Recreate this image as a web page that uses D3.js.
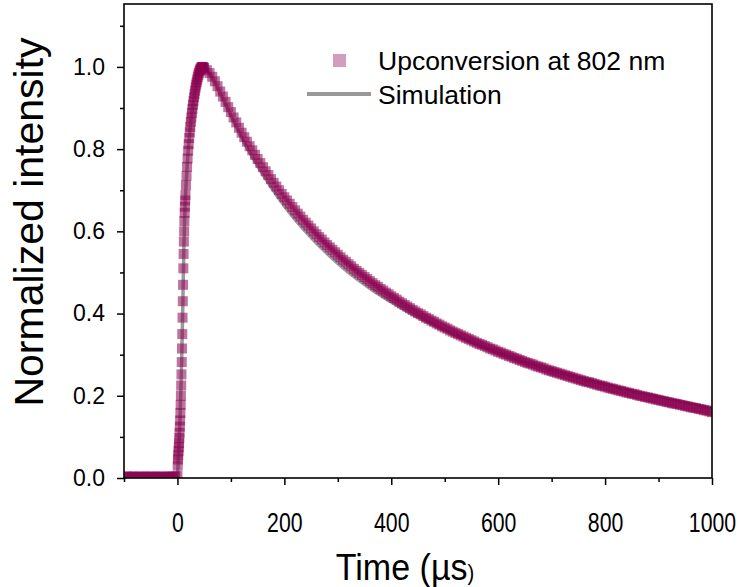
<!DOCTYPE html>
<html lang="en">
<head>
<meta charset="UTF-8">
<title>Upconversion decay</title>
<style>
  html, body { margin: 0; padding: 0; background: #fff; }
  body { font-family: "Liberation Sans", Arial, sans-serif; }
  .axis path { display: none; }
  .axis line { stroke: #000; stroke-width: 1.5; }
  .axis text { fill: #000; font-family: "Liberation Sans", Arial, sans-serif; }
</style>
<script src="https://cdn.jsdelivr.net/npm/d3@7"></script>
</head>
<body>
<svg id="chart"></svg>
<script>
// measured data (normalized intensity vs time in µs)
const baseT = d3.range(-100, 0, 4);
const baseV = [0.003, 0.004, 0.003, 0.002, 0.003, 0.004, 0.003, 0.003, 0.002, 0.003,
               0.004, 0.003, 0.003, 0.002, 0.003, 0.004, 0.003, 0.003, 0.002, 0.003,
               0.004, 0.003, 0.003, 0.003, 0.004];

const riseT = d3.range(0, 15.25, 0.5).concat(d3.range(16, 50, 1));
const riseV = [0.005, 0.030, 0.045, 0.055, 0.065, 0.075, 0.085, 0.097, 0.110, 0.125,
               0.140, 0.158, 0.178, 0.200, 0.225, 0.252, 0.282, 0.315, 0.350, 0.390,
               0.430, 0.470, 0.510, 0.545, 0.575, 0.600, 0.625, 0.645, 0.660, 0.675,
               0.688,
               0.712, 0.735, 0.757, 0.777, 0.796, 0.812, 0.827, 0.841, 0.854, 0.866,
               0.877, 0.888, 0.898, 0.908, 0.917, 0.926, 0.934, 0.942, 0.950, 0.957,
               0.963, 0.969, 0.975, 0.980, 0.985, 0.989, 0.992, 0.995, 0.997, 0.999,
               1.000, 1.000, 0.999, 0.998];

const decayT = d3.range(50, 1001, 5);
const decayV = [
  0.997, 0.992, 0.985, 0.976, 0.965, 0.953, 0.940, 0.928, 0.915, 0.902,
  0.890, 0.877, 0.865, 0.852, 0.840, 0.829, 0.818, 0.807, 0.797, 0.786,
  0.776, 0.766, 0.756, 0.746, 0.737, 0.727, 0.718, 0.709, 0.700, 0.691,
  0.683, 0.675, 0.667, 0.659, 0.651, 0.643, 0.636, 0.628, 0.621, 0.614,
  0.607, 0.600, 0.593, 0.586, 0.580, 0.573, 0.567, 0.561, 0.555, 0.549,
  0.543, 0.537, 0.531, 0.526, 0.520, 0.515, 0.509, 0.504, 0.499, 0.494,
  0.489, 0.484, 0.479, 0.474, 0.469, 0.465, 0.460, 0.456, 0.451, 0.447,
  0.442, 0.438, 0.434, 0.429, 0.425, 0.421, 0.417, 0.413, 0.409, 0.405,
  0.401, 0.398, 0.394, 0.390, 0.387, 0.383, 0.380, 0.376, 0.373, 0.369,
  0.366, 0.363, 0.359, 0.356, 0.353, 0.350, 0.347, 0.344, 0.341, 0.338,
  0.335, 0.332, 0.329, 0.326, 0.324, 0.321, 0.318, 0.315, 0.313, 0.310,
  0.307, 0.305, 0.302, 0.300, 0.297, 0.295, 0.292, 0.290, 0.287, 0.285,
  0.282, 0.280, 0.278, 0.276, 0.273, 0.271, 0.269, 0.267, 0.264, 0.262,
  0.260, 0.258, 0.256, 0.254, 0.252, 0.250, 0.248, 0.246, 0.244, 0.242,
  0.240, 0.238, 0.236, 0.234, 0.233, 0.231, 0.229, 0.227, 0.225, 0.224,
  0.222, 0.220, 0.218, 0.217, 0.215, 0.213, 0.212, 0.210, 0.208, 0.207,
  0.205, 0.204, 0.202, 0.200, 0.199, 0.197, 0.196, 0.194, 0.193, 0.191,
  0.190, 0.188, 0.187, 0.185, 0.184, 0.182, 0.181, 0.180, 0.178, 0.177,
  0.175, 0.174, 0.172, 0.171, 0.170, 0.168, 0.167, 0.165, 0.164, 0.162,
  0.160];

// simulation curve
const simT = [0, 2, 5, 8, 10, 12, 14, 16, 20, 25, 30, 35, 40, 45, 50, 60, 70, 80, 90, 100,
              120, 140, 160, 180, 200, 225, 250, 275, 300, 325, 350, 375, 400, 425, 450,
              475, 500, 550, 600, 650, 700, 750, 800, 850, 900, 950, 1000];
const simV = [0.000, 0.060, 0.150, 0.290, 0.420, 0.560, 0.655, 0.710, 0.795, 0.865, 0.917,
              0.957, 0.985, 0.998, 0.998, 0.983, 0.962, 0.936, 0.909, 0.882,
              0.829, 0.781, 0.738, 0.698, 0.662, 0.621, 0.585, 0.552, 0.522, 0.495,
              0.471, 0.448, 0.428, 0.409, 0.391, 0.375, 0.359, 0.330, 0.305, 0.282,
              0.262, 0.244, 0.228, 0.212, 0.198, 0.184, 0.170];

const xMajor = [0, 200, 400, 600, 800, 1000];
const xMinor = [-100, 100, 300, 500, 700, 900];
const yMajor = [0, 0.2, 0.4, 0.6, 0.8, 1.0];
const yMinor = [0.1, 0.3, 0.5, 0.7, 0.9, 1.1];

let width = 743;
let height = 587;
let pLeft = 124, pRight = 712, pTop = 4, pBottom = 478;

let svg = d3.select('#chart').attr('width', width).attr('height', height);

let x = d3.scaleLinear().domain([-100, 1000]).range([pLeft, pRight]);
let y = d3.scaleLinear().domain([0, 1.153]).range([pBottom, pTop]);

svg.append('clipPath').attr('id', 'plot')
  .append('rect').attr('x', pLeft).attr('y', pTop)
  .attr('width', pRight - pLeft).attr('height', pBottom - pTop);

// simulation line below the markers
let simPts = simT.map((t, i) => [t, simV[i]]);
svg.append('path')
  .datum(simPts)
  .attr('clip-path', 'url(#plot)')
  .attr('fill', 'none')
  .attr('stroke', '#999999')
  .attr('stroke-width', 3.5)
  .attr('d', d3.line().x(d => x(d[0])).y(d => y(d[1])).curve(d3.curveMonotoneX));

// measured points
let pts = [];
baseT.forEach((t, i) => pts.push([t, baseV[i]]));
riseT.forEach((t, i) => pts.push([t, riseV[i]]));
decayT.forEach((t, i) => pts.push([t, decayV[i]]));

let size = 10;
let markColor = '#8a0050';
svg.append('g')
  .attr('clip-path', 'url(#plot)')
  .selectAll('rect')
  .data(pts)
  .enter()
  .append('rect')
  .attr('x', d => x(d[0]) - size / 2)
  .attr('y', d => y(d[1]) - size / 2)
  .attr('width', size)
  .attr('height', size)
  .attr('fill', markColor)
  .attr('fill-opacity', 0.55);

// axes
let xAxis = svg.append('g').attr('class', 'axis')
  .attr('transform', 'translate(0,' + pBottom + ')');
xAxis.call(d3.axisBottom(x).tickValues(xMajor).tickSize(7).tickPadding(22).tickFormat(d3.format('d')));
xAxis.selectAll('text')
  .attr('dy', null).attr('y', 0)
  .attr('transform', 'translate(0,54) scale(0.76,1)')
  .style('font-size', '28px');
svg.append('g').attr('class', 'axis')
  .attr('transform', 'translate(0,' + pBottom + ')')
  .call(d3.axisBottom(x).tickValues(xMinor).tickSize(4).tickFormat(''));

let yAxis = svg.append('g').attr('class', 'axis')
  .attr('transform', 'translate(' + pLeft + ',0)');
yAxis.call(d3.axisLeft(y).tickValues(yMajor).tickSize(7).tickPadding(12).tickFormat(d3.format('.1f')));
yAxis.selectAll('text').style('font-size', '23px');
svg.append('g').attr('class', 'axis')
  .attr('transform', 'translate(' + pLeft + ',0)')
  .call(d3.axisLeft(y).tickValues(yMinor).tickSize(4).tickFormat(''));

// frame
svg.append('rect')
  .attr('x', pLeft).attr('y', pTop)
  .attr('width', pRight - pLeft).attr('height', pBottom - pTop)
  .attr('fill', 'none').attr('stroke', '#000').attr('stroke-width', 1.6);

// axis titles
let xt = svg.append('text')
  .attr('transform', 'translate(405,580) scale(0.92,1)')
  .attr('text-anchor', 'middle')
  .style('font-size', '37px');
xt.append('tspan').text('Time (µs');
xt.append('tspan').style('font-size', '22px').text(')');

svg.append('text')
  .attr('transform', 'rotate(-90)')
  .attr('x', -222).attr('y', 43)
  .attr('text-anchor', 'middle')
  .style('font-size', '41px')
  .text('Normalized intensity');

// legend
svg.append('rect')
  .attr('x', 333).attr('y', 54).attr('width', 13).attr('height', 13)
  .attr('fill', markColor).attr('fill-opacity', 0.38);
svg.append('text').attr('x', 378).attr('y', 70).style('font-size', '26.5px')
  .text('Upconversion at 802 nm');
svg.append('line')
  .attr('x1', 307).attr('x2', 371).attr('y1', 94).attr('y2', 94)
  .attr('stroke', '#999999').attr('stroke-width', 4);
svg.append('text').attr('x', 378).attr('y', 104).style('font-size', '26.5px')
  .text('Simulation');
</script>
</body>
</html>
